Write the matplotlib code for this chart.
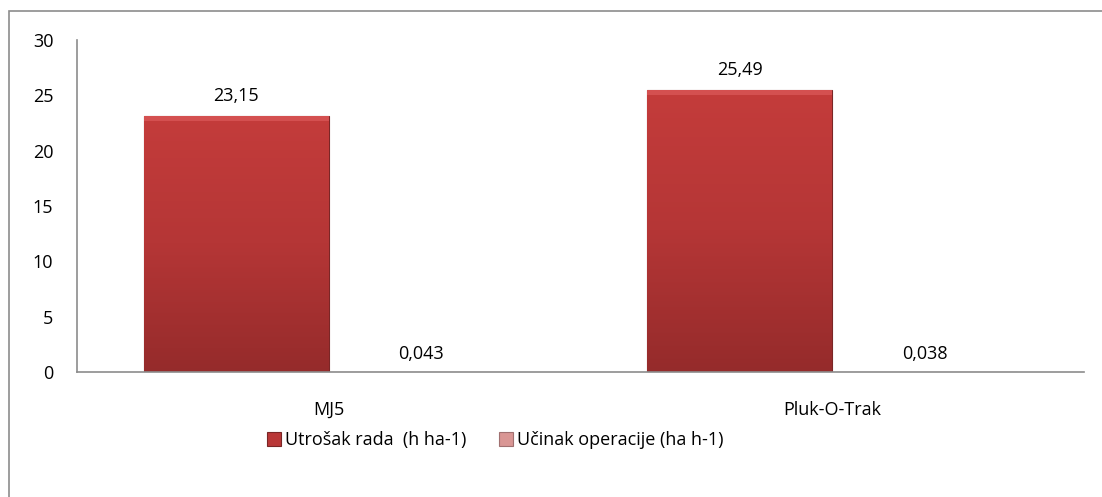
import numpy as np
import matplotlib.pyplot as plt
from matplotlib.patches import Rectangle
from matplotlib.colors import LinearSegmentedColormap

plt.rcParams['font.family'] = ['Open Sans', 'DejaVu Sans']

categories = ['MJ5', 'Pluk-O-Trak']
utrosak = [23.15, 25.49]
ucinak = [0.043, 0.038]
utrosak_labels = ['23,15', '25,49']
ucinak_labels = ['0,043', '0,038']
series_names = ['Utrošak rada  (h ha-1)', 'Učinak operacije (ha h-1)']

fig = plt.figure(figsize=(11.02, 4.97), dpi=100)
ax = fig.add_axes([77/1102, 1 - 372/497, (1084 - 77)/1102, (372 - 40)/497])

# outer chart frame (runs off the right/bottom edge like the original)
fig.patches.append(Rectangle((9/1102, -0.05), 1.2, 1 - 11/497 + 0.05,
                             transform=fig.transFigure, fill=False,
                             edgecolor='#8c8c8c', linewidth=1.2))

x = np.arange(len(categories))
w = 0.367
b1 = ax.bar(x - w/2, utrosak, w, color='#b93737', edgecolor='#7a2626',
            linewidth=0.8, label=series_names[0])
b2 = ax.bar(x + w/2, ucinak, w, color='#d99694', edgecolor='#a07070',
            linewidth=0.8, label=series_names[1])

# vertical shading on the big bars
cmap = LinearSegmentedColormap.from_list('bar', ['#952b2b', '#b53636', '#c43c3b'])
grad = np.linspace(0, 1, 256).reshape(-1, 1)
for rect in b1:
    x0, h = rect.get_x(), rect.get_height()
    im = ax.imshow(grad, cmap=cmap, origin='lower', aspect='auto',
                   extent=(x0, x0 + rect.get_width(), 0, h), zorder=rect.get_zorder())
    im.set_clip_path(rect)
    ax.add_patch(Rectangle((x0, h - 0.45), rect.get_width(), 0.45,
                           color='#d45050', lw=0, zorder=rect.get_zorder() + 0.1))

for rect, lab in zip(b1, utrosak_labels):
    ax.text(rect.get_x() + rect.get_width()/2, rect.get_height() + 1.0, lab,
            ha='center', va='bottom', fontsize=13)
for rect, lab in zip(b2, ucinak_labels):
    ax.text(rect.get_x() + rect.get_width()/2, rect.get_height() + 0.8, lab,
            ha='center', va='bottom', fontsize=13)

ax.set_xlim(-0.5, 1.5)
ax.set_ylim(0, 30)
ax.set_yticks(np.arange(0, 31, 5))
ax.set_xticks(x)
ax.set_xticklabels(categories, fontsize=13)
ax.tick_params(axis='y', labelsize=13, length=0, pad=17)
ax.tick_params(axis='x', length=0, pad=21)
for s in ['top', 'right']:
    ax.spines[s].set_visible(False)
for s in ['left', 'bottom']:
    ax.spines[s].set_color('#8c8c8c')
    ax.spines[s].set_linewidth(1.2)

ax.legend(loc='upper center', bbox_to_anchor=(0.415, -0.13), ncol=2,
          frameon=False, fontsize=13, handlelength=0.8, handleheight=0.8,
          handletextpad=0.2, columnspacing=1.8)

fig.savefig('out.png', dpi=100)
